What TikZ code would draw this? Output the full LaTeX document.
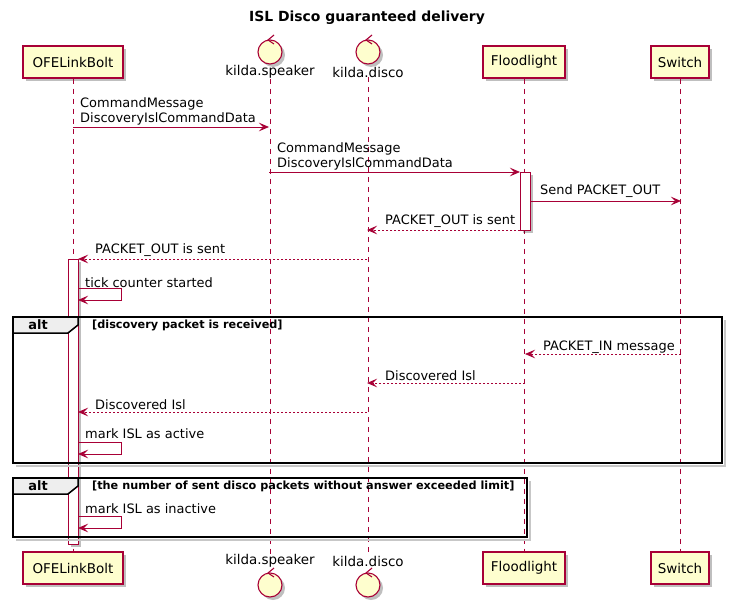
\documentclass[tikz,border=0pt]{standalone}
\usepackage{fontspec}
\setmainfont{DejaVu Sans}
\usetikzlibrary{arrows.meta,shadows}
\definecolor{umlred}{HTML}{A80036}
\definecolor{umlfill}{HTML}{FEFECE}
\definecolor{tabgray}{HTML}{EEEEEE}
\tikzset{
  umlshadow/.style={drop shadow={shadow xshift=3bp,shadow yshift=-3bp,opacity=0.25,fill=black}},
  participant/.style={draw=umlred,fill=umlfill,line width=1.1bp,minimum height=32bp,
    inner sep=0pt,font=\fontsize{13.5}{16}\selectfont,umlshadow},
  ctrllabel/.style={inner sep=0pt,font=\fontsize{13.5}{16}\selectfont},
  ctrl/.style={draw=umlred,fill=umlfill,line width=1.1bp,umlshadow},
  lifeline/.style={draw=umlred,line width=0.8bp,dash pattern=on 5bp off 5bp},
  actbar/.style={draw=umlred,fill=white,line width=0.8bp,umlshadow},
  msg/.style={draw=umlred,line width=0.8bp,-{Stealth[length=10bp,width=8.5bp,inset=4bp]}},
  reply/.style={msg,dash pattern=on 2bp off 2bp},
  msgtext/.style={anchor=west,inner sep=0pt,font=\fontsize{13}{15}\selectfont},
  frame/.style={draw=black,line width=1.5bp},
  frameshade/.style={draw=black!22,line width=2bp},
  framefont/.style={font=\fontsize{11.3}{13}\bfseries\selectfont,inner sep=0pt},
}
\begin{document}
\begin{tikzpicture}[x=1bp,y=-1bp]
\useasboundingbox[fill=white] (0,0) rectangle (733,606);
% title
\node[font=\fontsize{14}{16}\bfseries\selectfont] (title) at (367,18) {ISL Disco guaranteed delivery};

% participants, top and bottom
\node[participant,minimum width=100bp] (ofeHead) at (73,62) {OFELinkBolt};
\node[participant,minimum width=100bp] (ofeFoot) at (73,568) {OFELinkBolt};
\node[participant,minimum width=82bp] (fldHead) at (524,62) {Floodlight};
\node[participant,minimum width=82bp] (fldFoot) at (524,568) {Floodlight};
\node[participant,minimum width=58bp] (swHead) at (680,62) {Switch};
\node[participant,minimum width=58bp] (swFoot) at (680,568) {Switch};

% control symbols
\foreach \cx/\nm/\lb in {270/spk/kilda.speaker,368/dsc/kilda.disco}{
  \draw[ctrl] (\cx,52) circle (12bp);
  \draw[umlred,line width=1.1bp] (\cx+4,35) -- (\cx-2,40) -- (\cx+4,44);
  \node[ctrllabel] (\nm Head) at (\cx,72) {\lb};
  \node[ctrllabel] (\nm Foot) at (\cx,561) {\lb};
  \draw[ctrl] (\cx,585) circle (12bp);
  \draw[umlred,line width=1.1bp] (\cx+4,568) -- (\cx-2,573) -- (\cx+4,577);
}

% lifelines
\draw[lifeline] (ofeHead) -- (ofeFoot);
\draw[lifeline] (spkHead) -- (spkFoot);
\draw[lifeline] (dscHead) -- (dscFoot);
\draw[lifeline] (fldHead) -- (fldFoot);
\draw[lifeline] (swHead) -- (swFoot);

% activations
\draw[actbar] (68,259) rectangle (78,544);
\draw[actbar] (520,172) rectangle (530,230);

% alt frames
\draw[frameshade] (725,320) -- (725,466) -- (16,466);
\draw[frame] (13,317) rectangle (722,463);
\draw[frame,fill=tabgray] (13,317) -- (78,317) -- (78,325) -- (68,333) -- (13,333) -- cycle;
\node[framefont,font=\fontsize{13}{15}\bfseries\selectfont] (alt1) at (38,325) {alt};
\node[framefont,anchor=west] (guard1) at (92,325) {[discovery packet is received]};
\draw[frameshade] (530,481) -- (530,540) -- (16,540);
\draw[frame] (13,478) rectangle (527,537);
\draw[frame,fill=tabgray] (13,478) -- (78,478) -- (78,486) -- (68,494) -- (13,494) -- cycle;
\node[framefont,font=\fontsize{13}{15}\bfseries\selectfont] (alt2) at (38,486) {alt};
\node[framefont,anchor=west] (guard2) at (92,486) {[the number of sent disco packets without answer exceeded limit]};

% message end points
\foreach \n/\x/\y in {m1a/73/127,m1b/269/127,m2a/269/172,m2b/520/172,
  m3a/530/201,m3b/681/201,m4a/520/230,m4b/367/230,m5a/367/259,m5b/78/259,
  s1a/78/288,s1b/121/288,s1c/121/300,s1d/78/300,
  m6a/681/354,m6b/525/354,m7a/525/383,m7b/367/383,m8a/367/412,m8b/78/412,
  s2a/78/442,s2b/121/442,s2c/121/454,s2d/78/454,
  s3a/78/516,s3b/121/516,s3c/121/528,s3d/78/528}
  \coordinate (\n) at (\x,\y);

% messages
\draw[msg] (m1a) -- (m1b);
\node[msgtext] (t1a) at (80,104) {CommandMessage};
\node[msgtext] (t1b) at (80,119) {DiscoveryIslCommandData};
\draw[msg] (m2a) -- (m2b);
\node[msgtext] (t2a) at (277,149) {CommandMessage};
\node[msgtext] (t2b) at (277,164) {DiscoveryIslCommandData};
\draw[msg] (m3a) -- (m3b);
\node[msgtext] (t3) at (540,191) {Send PACKET\_OUT};
\draw[reply] (m4a) -- (m4b);
\node[msgtext] (t4) at (385,221) {PACKET\_OUT is sent};
\draw[reply] (m5a) -- (m5b);
\node[msgtext] (t5) at (95,250) {PACKET\_OUT is sent};
\draw[msg] (s1a) -- (s1b) -- (s1c) -- (s1d);
\node[msgtext] (ts1) at (85,283) {tick counter started};
\draw[reply] (m6a) -- (m6b);
\node[msgtext] (t6) at (543,347) {PACKET\_IN message};
\draw[reply] (m7a) -- (m7b);
\node[msgtext] (t7) at (385,376) {Discovered Isl};
\draw[reply] (m8a) -- (m8b);
\node[msgtext] (t8) at (95,405) {Discovered Isl};
\draw[msg] (s2a) -- (s2b) -- (s2c) -- (s2d);
\node[msgtext] (ts2) at (85,434) {mark ISL as active};
\draw[msg] (s3a) -- (s3b) -- (s3c) -- (s3d);
\node[msgtext] (ts3) at (85,509) {mark ISL as inactive};
\end{tikzpicture}
\end{document}
